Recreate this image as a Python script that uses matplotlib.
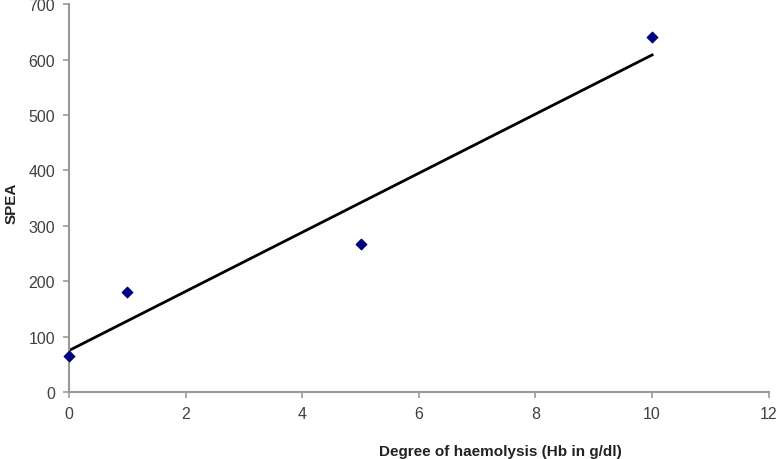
import numpy as np
import matplotlib
matplotlib.use("Agg")
import matplotlib.pyplot as plt

plt.rcParams['font.family'] = ['Liberation Sans', 'DejaVu Sans']

# data
haemolysis = [0, 1, 5, 10]
spea = [65, 180, 268, 640]
x_ticks = [0, 2, 4, 6, 8, 10, 12]
y_ticks = [0, 100, 200, 300, 400, 500, 600, 700]

fig = plt.figure(figsize=(7.8, 4.6), dpi=100)
ax = fig.add_axes([0.0885, 0.1457, 0.897, 0.843])

# linear trendline through the points
slope, intercept = np.polyfit(haemolysis, spea, 1)
xs = np.array([min(haemolysis), max(haemolysis)])
ax.plot(xs, slope * xs + intercept, color='black', lw=2, zorder=2)

ax.scatter(haemolysis, spea, marker='D', s=28, color='#000080', zorder=3, clip_on=False)

ax.set_xlim(0, 12)
ax.set_ylim(0, 700)
ax.set_xticks(x_ticks)
ax.set_yticks(y_ticks)

for side in ['top', 'right']:
    ax.spines[side].set_visible(False)
for side in ['left', 'bottom']:
    ax.spines[side].set_color('#999999')
    ax.spines[side].set_linewidth(1.5)

ax.tick_params(axis='both', colors='#999999', length=4, width=1.2, labelsize=11.5,
               labelcolor='#404040')
ax.tick_params(axis='x', pad=6)
ax.tick_params(axis='y', pad=6)

ax.set_xlabel('Degree of haemolysis (Hb in g/dl)', fontsize=11, fontweight='bold', color='#222222')
ax.xaxis.set_label_coords(0.617, -0.135)
ax.set_ylabel('SPEA', fontsize=11, fontweight='bold', color='#222222')
ax.yaxis.set_label_coords(-0.072, 0.49)

fig.savefig('out.png', dpi=100)
